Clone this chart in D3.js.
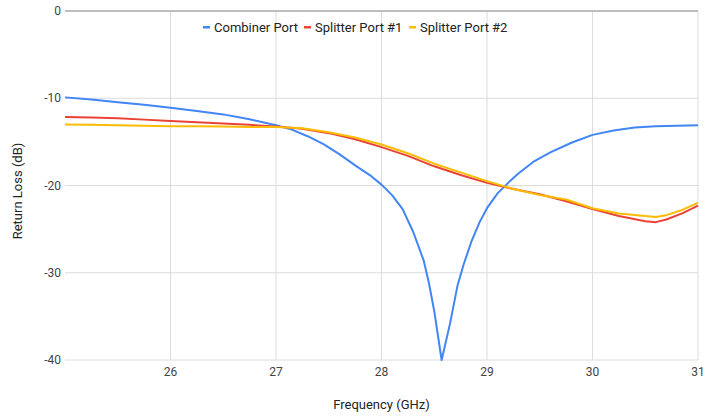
<!DOCTYPE html>
<html><head><meta charset="utf-8">
<script src="https://cdn.jsdelivr.net/npm/d3@7"></script>
<style>body{margin:0;background:#fff;font-family:Roboto,Arial,sans-serif}</style>
</head><body><svg id="c" width="714" height="416"></svg>
<script>
const seriesNames = ["Combiner Port", "Splitter Port #1", "Splitter Port #2"];
const seriesColors = ["#4285F4", "#EA4335", "#FBBC04"];
const xTicks = [26, 27, 28, 29, 30, 31];
const yTicks = [0, -10, -20, -30, -40];

const combinerFreq = [25.0,25.25,25.5,25.75,26.0,26.25,26.5,26.75,27.0,27.15,27.3,27.45,27.6,27.75,27.9,28.0,28.1,28.2,28.3,28.4,28.45,28.5,28.57,28.65,28.72,28.78,28.85,28.93,29.0,29.1,29.2,29.3,29.45,29.6,29.8,30.0,30.2,30.4,30.6,30.8,31.0];
const combinerRL = [-9.9,-10.15,-10.45,-10.75,-11.1,-11.45,-11.85,-12.4,-13.1,-13.6,-14.35,-15.25,-16.4,-17.7,-18.9,-19.9,-21.1,-22.7,-25.3,-28.6,-31.2,-34.4,-40.0,-35.8,-31.5,-29.0,-26.5,-24.2,-22.6,-20.9,-19.7,-18.6,-17.2,-16.2,-15.1,-14.2,-13.7,-13.35,-13.2,-13.15,-13.1];

const splitterFreq = [25.0,25.25,25.5,25.75,26.0,26.25,26.5,26.75,27.0,27.25,27.5,27.75,28.0,28.25,28.5,28.75,29.0,29.25,29.5,29.75,30.0,30.25,30.5,30.6,30.7,30.85,31.0];
const splitter1RL = [-12.15,-12.2,-12.3,-12.45,-12.6,-12.75,-12.9,-13.05,-13.25,-13.5,-14.0,-14.7,-15.6,-16.6,-17.8,-18.8,-19.7,-20.4,-21.0,-21.8,-22.7,-23.5,-24.1,-24.2,-23.9,-23.2,-22.3];
const splitter2RL = [-13.0,-13.05,-13.1,-13.15,-13.2,-13.2,-13.25,-13.3,-13.3,-13.45,-13.9,-14.5,-15.3,-16.3,-17.5,-18.5,-19.5,-20.4,-21.1,-21.6,-22.6,-23.2,-23.5,-23.6,-23.4,-22.8,-22.0];

const svg = d3.select("#c");
const L = 65, R = 698, T = 11, B = 360;
const x = d3.scaleLinear().domain([25, 31]).range([L, R]);
const y = d3.scaleLinear().domain([-40, 0]).range([B, T]);

// gridlines
svg.append("g").selectAll("line").data(xTicks).join("line")
  .attr("x1", d => x(d)).attr("x2", d => x(d)).attr("y1", T).attr("y2", B)
  .attr("stroke", "#dcdcdc").attr("stroke-width", 1);
svg.append("g").selectAll("line").data(yTicks).join("line")
  .attr("x1", L).attr("x2", R).attr("y1", d => y(d)).attr("y2", d => y(d))
  .attr("stroke", d => d === 0 ? "#a8a8a8" : "#dcdcdc").attr("stroke-width", d => d === 0 ? 1.3 : 1);

// y tick labels
svg.append("g").selectAll("text").data(yTicks).join("text")
  .attr("x", L - 4).attr("y", d => y(d) + 4).attr("text-anchor", "end")
  .attr("font-size", 12).attr("fill", "#444").text(d => d);
// x tick labels
svg.append("g").selectAll("text").data(xTicks).join("text")
  .attr("x", d => x(d)).attr("y", 376).attr("text-anchor", "middle")
  .attr("font-size", 12).attr("fill", "#444").text(d => d);

// axis titles
svg.append("text").attr("x", x(28)).attr("y", 409).attr("text-anchor", "middle")
  .attr("font-size", 13).attr("fill", "#222").text("Frequency (GHz)");
svg.append("text").attr("transform", "translate(22,191) rotate(-90)").attr("text-anchor", "middle")
  .attr("font-size", 13).attr("fill", "#222").text("Return Loss (dB)");

// lines
const line = d3.line().x(d => x(d[0])).y(d => y(d[1]));
const series = [
  combinerFreq.map((f, i) => [f, combinerRL[i]]),
  splitterFreq.map((f, i) => [f, splitter1RL[i]]),
  splitterFreq.map((f, i) => [f, splitter2RL[i]])
];
series.forEach((s, i) => {
  svg.append("path").datum(s).attr("d", line).attr("fill", "none")
    .attr("stroke", seriesColors[i]).attr("stroke-width", 2).attr("stroke-linejoin", "round");
});

// legend
const legX = [203, 304, 409];
const lg = svg.append("g");
seriesNames.forEach((n, i) => {
  lg.append("rect").attr("x", legX[i]).attr("y", 26).attr("width", 7).attr("height", 2.5).attr("fill", seriesColors[i]);
  lg.append("text").attr("x", legX[i] + 11).attr("y", 32).attr("font-size", 13).attr("fill", "#222").text(n);
});
</script></body></html>
